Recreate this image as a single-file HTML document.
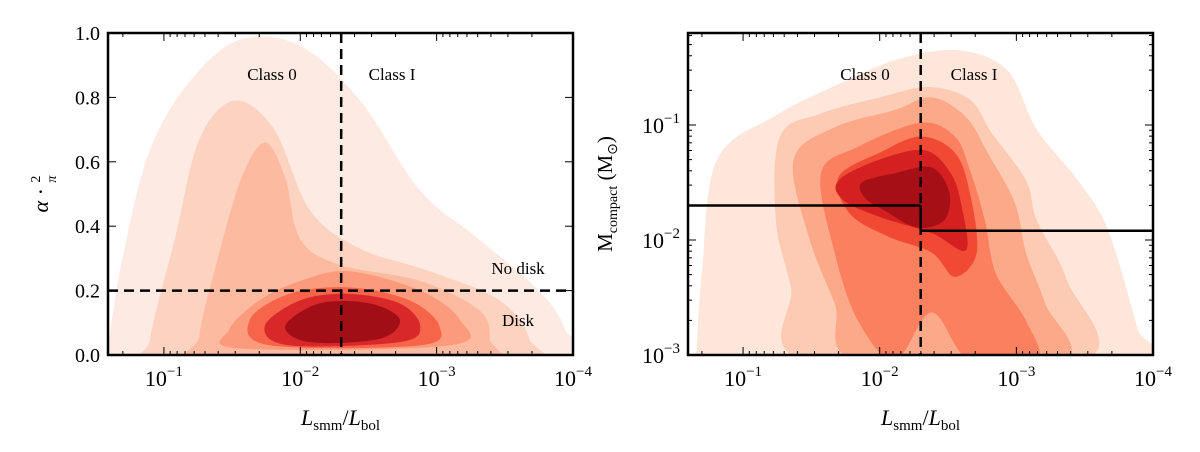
<!DOCTYPE html>
<html><head><meta charset="utf-8"><style>
html,body{margin:0;padding:0;background:#fff;}
svg{display:block;font-family:"Liberation Serif",serif;}
</style></head><body>
<svg id="fig" width="1200" height="452" viewBox="0 0 1200 452" xmlns="http://www.w3.org/2000/svg">
<defs>
<clipPath id="clipL"><rect x="108" y="33" width="465" height="322"/></clipPath>
<clipPath id="clipR"><rect x="688" y="33" width="465" height="322"/></clipPath>
</defs>
<g id="left"></g>
<g id="right"></g>
</svg>
<script>
// Data: x = -log10(Lsmm/Lbol); left y = alpha*2/pi ; right y = log10(M_compact)
const leftColors=['#fdeae2','#fcd3c1','#fcbba1','#fc9b7c','#f6644a','#d9282a','#a10e15'];
const leftLevels=[
 [[0.60,0.05],[0.71,0.33],[0.90,0.64],[1.19,0.85],[1.56,0.98],[2.00,0.96],[2.44,0.79],[2.88,0.51],[3.31,0.36],[3.75,0.20],[3.94,0.08],[3.94,-0.05],[0.60,-0.05]],
 [[0.90,0.05],[1.08,0.36],[1.26,0.67],[1.52,0.79],[1.81,0.70],[2.07,0.45],[2.44,0.33],[2.95,0.26],[3.46,0.17],[3.68,0.05],[3.60,-0.05],[0.95,-0.05]],
 [[1.26,0.06],[1.37,0.26],[1.56,0.54],[1.74,0.66],[1.89,0.55],[2.00,0.36],[2.29,0.28],[2.88,0.23],[3.31,0.14],[3.39,0.05],[3.30,-0.03],[1.30,-0.03]],
 [[1.48,0.08],[1.70,0.17],[2.00,0.23],[2.36,0.26],[2.88,0.20],[3.17,0.11],[3.10,0.03],[1.56,0.02]],
 [[1.63,0.11],[1.92,0.19],[2.36,0.21],[2.80,0.17],[3.02,0.09],[2.88,0.03],[1.78,0.03]],
 [[1.74,0.09],[2.00,0.17],[2.36,0.19],[2.73,0.16],[2.88,0.09],[2.73,0.04],[1.92,0.03]],
 [[1.89,0.09],[2.14,0.16],[2.51,0.16],[2.73,0.11],[2.58,0.05],[2.07,0.04]]
];
const rightColors=['#fee6da','#fdcab4','#fca98a','#fb8060','#f04a35','#d42020','#a50f15'];
const rightLevels=[
 [[0.66,-2.96],[0.70,-2.26],[0.81,-1.30],[1.25,-0.91],[1.69,-0.65],[2.13,-0.43],[2.57,-0.35],[2.93,-0.52],[3.15,-1.04],[3.45,-1.48],[3.67,-1.91],[3.89,-2.78],[3.96,-3.1],[0.66,-3.1]],
 [[1.24,-1.83],[1.27,-1.10],[1.57,-0.90],[2.00,-0.76],[2.36,-0.67],[2.66,-0.78],[2.82,-1.07],[3.07,-1.48],[3.15,-1.83],[3.37,-2.35],[3.48,-3.05],[1.46,-3.05],[1.35,-2.41]],
 [[1.48,-1.97],[1.37,-1.30],[1.67,-1.02],[2.11,-0.87],[2.38,-0.76],[2.63,-0.93],[2.79,-1.24],[2.99,-1.68],[3.07,-2.11],[3.21,-2.55],[3.32,-3.05],[1.84,-3.05],[1.67,-2.55]],
 [[1.57,-1.42],[1.84,-1.19],[2.30,-0.98],[2.55,-1.10],[2.66,-1.39],[2.77,-1.83],[2.85,-2.29],[3.07,-2.70],[3.15,-3.05],[2.66,-3.05],[2.38,-2.63],[2.11,-3.05],[1.84,-2.70],[1.67,-2.11]],
 [[1.70,-1.45],[2.00,-1.24],[2.30,-1.10],[2.55,-1.24],[2.66,-1.59],[2.71,-2.11],[2.55,-2.32],[2.38,-2.11],[2.06,-1.97],[1.78,-1.77]],
 [[1.70,-1.48],[2.00,-1.30],[2.33,-1.22],[2.52,-1.42],[2.60,-1.71],[2.63,-2.09],[2.38,-1.94],[2.00,-1.80],[1.73,-1.65]],
 [[1.87,-1.50],[2.11,-1.42],[2.38,-1.37],[2.51,-1.59],[2.47,-1.83],[2.27,-1.89],[2.03,-1.74],[1.89,-1.63]]
];
const xTickLabels=['1','2','3','4'];
const leftYTicks=[0,0.2,0.4,0.6,0.8,1.0];
const rightYTicks=[-3,-2,-1];
const classBoundary=2.3;
const diskBoundary=0.2;
const massLeft=-1.70, massRight=-1.92;

const NS='http://www.w3.org/2000/svg';
function el(tag,attrs,parent,text){const e=document.createElementNS(NS,tag);for(const k in attrs)e.setAttribute(k,attrs[k]);if(text!==undefined)e.textContent=text;parent.appendChild(e);return e;}
function smooth(pts){const n=pts.length;let d=`M${pts[0][0]},${pts[0][1]}`;
 for(let i=0;i<n;i++){const p0=pts[(i-1+n)%n],p1=pts[i],p2=pts[(i+1)%n],p3=pts[(i+2)%n];
  const c1=[p1[0]+(p2[0]-p0[0])/6,p1[1]+(p2[1]-p0[1])/6],c2=[p2[0]-(p3[0]-p1[0])/6,p2[1]-(p3[1]-p1[1])/6];
  d+=`C${c1[0]},${c1[1]} ${c2[0]},${c2[1]} ${p2[0]},${p2[1]}`;}
 return d+'Z';}

function panel(g,x0,x1,y0,y1,uMin,uMax,sy,levels,colors,clip){
 const sx=u=>x0+(u-uMin)/(uMax-uMin)*(x1-x0);
 const cg=el('g',{'clip-path':`url(#${clip})`},g);
 levels.forEach((lv,i)=>{const p=el('path',{d:smooth(lv.map(q=>[sx(q[0]),sy(q[1])])),fill:colors[i]},cg);
  
  });
 const tg=el('g',{stroke:'#000','stroke-width':1},g);
 for(let dec=0;dec<=4;dec++){for(let m=1;m<=9;m++){
   const uu=m===1?dec:dec+1-Math.log10(m);
   if(uu<uMin||uu>uMax)continue;const X=sx(uu);const L=m===1?8:4;
   el('line',{x1:X,x2:X,y1:y1,y2:y1-L},tg);el('line',{x1:X,x2:X,y1:y0,y2:y0+L},tg);}}
 xTickLabels.forEach(t=>{const X=sx(+t);const tx=el('text',{x:X,y:y1+31,'text-anchor':'middle','font-size':22},g);
  
  tx.innerHTML=`10<tspan dy="-10" font-size="15">−${t}</tspan>`;});
 const xl=el('text',{x:(x0+x1)/2,y:y1+70,'text-anchor':'middle','font-size':22},g);
 
 xl.innerHTML='<tspan font-style="italic">L</tspan><tspan font-size="15" dy="5">smm</tspan><tspan dy="-5">/</tspan><tspan font-style="italic">L</tspan><tspan font-size="15" dy="5">bol</tspan>';
 return {sx,tg};
}

const L=document.getElementById('left'), R=document.getElementById('right');
const lsy=v=>355-v*322;
const lp=panel(L,108,573,33,355,0.59,4.0,lsy,leftLevels,leftColors,'clipL');
leftYTicks.forEach(v=>{const Y=lsy(v);el('line',{x1:108,x2:116,y1:Y,y2:Y},lp.tg);el('line',{x1:573,x2:565,y1:Y,y2:Y},lp.tg);
 const t=el('text',{x:100,y:Y+7,'text-anchor':'end','font-size':20},L,v.toFixed(1));
 });
el('line',{x1:lp.sx(classBoundary),x2:lp.sx(classBoundary),y1:33,y2:355,stroke:'#000','stroke-width':2.5,'stroke-dasharray':'10,6'},L);
el('line',{x1:108,x2:573,y1:lsy(diskBoundary),y2:lsy(diskBoundary),stroke:'#000','stroke-width':2.5,'stroke-dasharray':'10,6'},L);
[['Class 0',272,80],['Class I',392,80],['No disk',518,274],['Disk',518,326]].forEach(a=>{const t=el('text',{x:a[1],y:a[2],'text-anchor':'middle','font-size':17},L,a[0]);
 });
el('rect',{x:108,y:33,width:465,height:322,fill:'none',stroke:'#000','stroke-width':2.5},L);
const ly=el('text',{transform:'translate(48,194) rotate(-90)','text-anchor':'middle','font-size':22},L);

ly.innerHTML='<tspan font-style="italic">α</tspan> · <tspan font-size="14" dy="-8">2</tspan><tspan font-size="14" dx="-7" dy="16" font-style="italic">π</tspan>';

const rsy=w=>125+(-1-w)*115;
const rp=panel(R,688,1153,33,355,0.597,4.0,rsy,rightLevels,rightColors,'clipR');
for(let dec=-3;dec<=0;dec++){for(let m=1;m<=9;m++){const w=dec+Math.log10(m);const Y=rsy(w);if(Y<33||Y>355)continue;const Ln=m===1?8:4;
 el('line',{x1:688,x2:688+Ln,y1:Y,y2:Y},rp.tg);el('line',{x1:1153,x2:1153-Ln,y1:Y,y2:Y},rp.tg);}}
rightYTicks.forEach(w=>{const t=el('text',{x:680,y:rsy(w)+8,'text-anchor':'end','font-size':22},R);
 
 t.innerHTML=`10<tspan dy="-10" font-size="15">−${-w}</tspan>`;});
const cx=rp.sx(classBoundary);
el('line',{x1:cx,x2:cx,y1:33,y2:355,stroke:'#000','stroke-width':2.5,'stroke-dasharray':'10,6'},R);
el('line',{x1:688,x2:cx,y1:rsy(massLeft),y2:rsy(massLeft),stroke:'#000','stroke-width':2.5},R);
el('line',{x1:cx,x2:cx,y1:rsy(massLeft),y2:rsy(massRight),stroke:'#000','stroke-width':2.5},R);
el('line',{x1:cx,x2:1153,y1:rsy(massRight),y2:rsy(massRight),stroke:'#000','stroke-width':2.5},R);
[['Class 0',865,80],['Class I',974,80]].forEach(a=>{const t=el('text',{x:a[1],y:a[2],'text-anchor':'middle','font-size':17},R,a[0]);
 });
el('rect',{x:688,y:33,width:465,height:322,fill:'none',stroke:'#000','stroke-width':2.5},R);
const ry=el('text',{transform:'translate(612,194) rotate(-90)','text-anchor':'middle','font-size':21},R);

ry.innerHTML='M<tspan font-size="14" dy="5">compact</tspan><tspan dy="-5"> (M</tspan><tspan font-size="14" dy="5">⊙</tspan><tspan dy="-5">)</tspan>';
</script>
</body></html>
